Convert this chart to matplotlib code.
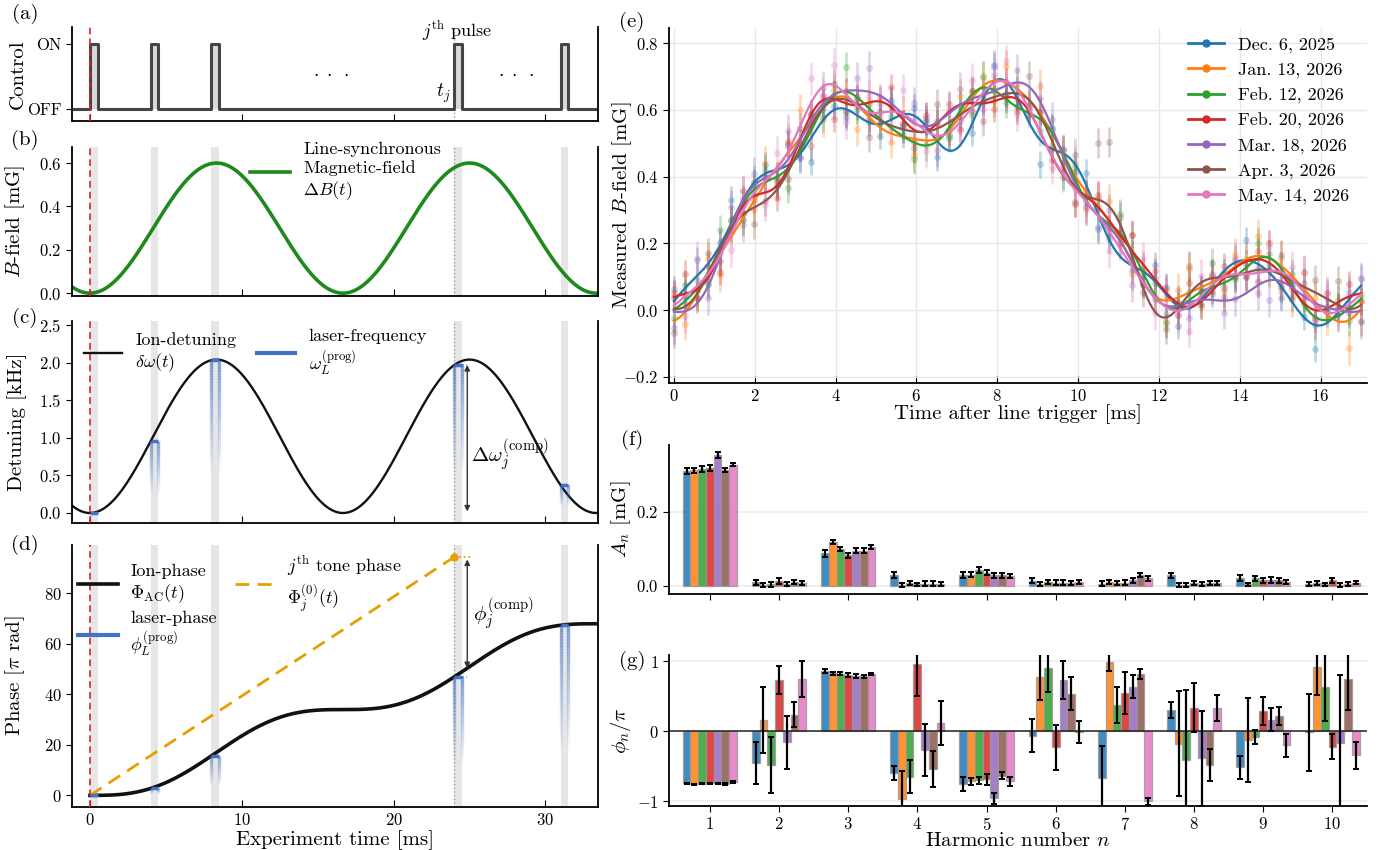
import numpy as np
import matplotlib
matplotlib.use('Agg')
import matplotlib.pyplot as plt
from matplotlib.collections import LineCollection
from matplotlib.lines import Line2D
from matplotlib.colors import to_rgb

plt.rcParams['font.family'] = ['cmr10', 'DejaVu Serif']
plt.rcParams['mathtext.fontset'] = 'cm'
plt.rcParams['axes.formatter.use_mathtext'] = True
plt.rcParams['axes.unicode_minus'] = True
plt.rcParams['axes.linewidth'] = 1.3

# ---------------- schematic parameters (panels a-d) ----------------
line_period_ms = 1000.0 / 60.0
B_peak_mG = 0.60
detuning_peak_kHz = 2.04
pulse_times_ms = [0.0, 4.0, 8.0, 24.0, 31.0]
pulse_width_ms = 0.5
j_pulse_index = 3
control_ticks = [0, 1]
control_labels = ['OFF', 'ON']

# ---------------- measured data (panels e-g) ----------------
dates = ['Dec. 6, 2025', 'Jan. 13, 2026', 'Feb. 12, 2026', 'Feb. 20, 2026',
         'Mar. 18, 2026', 'Apr. 3, 2026', 'May. 14, 2026']
colors = ['#1f77b4', '#ff7f0e', '#2ca02c', '#d62728', '#9467bd', '#8c564b', '#e377c2']
harmonics = [1, 2, 3, 4, 5, 6, 7, 8, 9, 10]
offset_A0 = [0.320, 0.330, 0.325, 0.330, 0.330, 0.325, 0.328]

amp_dec06 = [0.310, 0.010, 0.088, 0.029, 0.030, 0.014, 0.006, 0.028, 0.020, 0.005]
amp_jan13 = [0.312, 0.003, 0.118, 0.002, 0.030, 0.005, 0.010, 0.003, 0.004, 0.008]
amp_feb12 = [0.315, 0.004, 0.100, 0.008, 0.043, 0.010, 0.007, 0.002, 0.020, 0.004]
amp_feb20 = [0.318, 0.013, 0.082, 0.004, 0.036, 0.008, 0.008, 0.007, 0.015, 0.015]
amp_mar18 = [0.352, 0.005, 0.095, 0.006, 0.029, 0.009, 0.015, 0.005, 0.016, 0.003]
amp_apr03 = [0.313, 0.010, 0.095, 0.006, 0.028, 0.008, 0.030, 0.007, 0.015, 0.005]
amp_may14 = [0.327, 0.007, 0.104, 0.005, 0.027, 0.010, 0.020, 0.008, 0.010, 0.009]

amp_err_dec06 = [0.009, 0.007, 0.009, 0.009, 0.008, 0.007, 0.007, 0.008, 0.008, 0.006]
amp_err_jan13 = [0.007, 0.005, 0.006, 0.005, 0.007, 0.005, 0.006, 0.005, 0.005, 0.006]
amp_err_feb12 = [0.007, 0.006, 0.006, 0.006, 0.007, 0.006, 0.006, 0.005, 0.007, 0.005]
amp_err_feb20 = [0.008, 0.007, 0.007, 0.005, 0.008, 0.007, 0.007, 0.006, 0.007, 0.007]
amp_err_mar18 = [0.008, 0.006, 0.007, 0.006, 0.007, 0.007, 0.007, 0.006, 0.007, 0.005]
amp_err_apr03 = [0.006, 0.006, 0.006, 0.006, 0.006, 0.006, 0.006, 0.006, 0.006, 0.005]
amp_err_may14 = [0.005, 0.005, 0.005, 0.005, 0.006, 0.006, 0.006, 0.006, 0.006, 0.005]

phase_dec06 = [-0.745, -0.46, 0.855, -0.60, -0.755, -0.065, -0.665, 0.30, -0.52, -0.015]
phase_jan13 = [-0.760, 0.155, 0.825, -0.965, -0.720, 0.775, 0.980, -0.18, -0.13, 0.920]
phase_feb12 = [-0.750, -0.485, 0.820, -0.65, -0.700, 0.905, 0.370, -0.41, -0.08, 0.630]
phase_feb20 = [-0.745, 0.730, 0.800, 0.960, -0.690, -0.230, 0.550, 0.33, 0.28, -0.225]
phase_mar18 = [-0.745, -0.160, 0.790, -0.265, -0.960, 0.725, 0.635, -0.39, 0.165, -0.175]
phase_apr03 = [-0.755, 0.235, 0.780, -0.545, -0.635, 0.535, 0.810, -0.49, 0.215, 0.750]
phase_may14 = [-0.730, 0.745, 0.815, 0.115, -0.720, -0.015, -1.000, 0.33, -0.205, -0.345]

phase_err_dec06 = [0.01, 0.30, 0.03, 0.10, 0.10, 0.24, 0.45, 0.12, 0.16, 0.55]
phase_err_jan13 = [0.01, 0.47, 0.02, 0.40, 0.05, 0.33, 0.12, 0.75, 0.60, 0.40]
phase_err_feb12 = [0.01, 0.40, 0.02, 0.24, 0.05, 0.35, 0.26, 1.00, 0.10, 0.48]
phase_err_feb20 = [0.01, 0.20, 0.03, 0.46, 0.08, 0.32, 0.30, 0.35, 0.20, 0.18]
phase_err_mar18 = [0.01, 0.38, 0.03, 0.37, 0.08, 0.27, 0.17, 0.68, 0.17, 0.97]
phase_err_apr03 = [0.01, 0.18, 0.02, 0.26, 0.05, 0.24, 0.07, 0.23, 0.13, 0.45]
phase_err_may14 = [0.01, 0.26, 0.01, 0.31, 0.06, 0.16, 0.05, 0.18, 0.17, 0.19]

# deviations of the measured points from each fitted curve (units of 0.01 mG)
resid_dec06 = [3, -2, 4, -5, 1, 6, -3, 0, 2, -4, 5, -1, -6, 3, 1, -2, 4, 0, -3, 5,
               -5, 2, 1, -4, 3, 6, -2, -1, 4, -3, 0, 2, -6, 5, 1, -2, 3, -4, 0, 6,
               -1, -3, 4, 2, -5, 1, 3, -2, 0, -4, 5, -1, 2, -3, 4, 0, -6, 3, 1, -2, 2]
resid_jan13 = [6, -3, 1, 4, -5, 2, 0, -2, 5, -4, 3, 7, -1, -3, 2, 0, -6, 4, 1, -2,
               6, -4, 3, 0, -1, 5, -3, 2, -5, 4, 1, -2, 7, -3, 0, 3, -4, 2, 5, -1,
               -3, 4, 0, -5, 2, 6, -2, 1, -4, 3, 0, 5, -3, 2, -6, 4, 1, -1, 3, -7, 2]
resid_feb12 = [-2, 4, 0, -3, 5, 1, -4, 2, 3, -1, -5, 2, 4, -2, 0, 6, -3, 1, -1, 3,
               2, -4, 0, 5, -2, 1, -5, 3, 0, -1, 4, 2, -3, 1, -6, 3, 0, 2, -2, 5,
               -1, 0, 3, -4, 1, 2, -3, 6, -1, 0, -2, 4, 1, -5, 3, 0, -2, 2, 4, -3, 1]
resid_feb20 = [1, 5, -2, 3, -4, 0, 2, -1, 4, -3, 6, -2, 0, 1, -5, 3, 2, -4, 1, 5,
               -1, -3, 4, 0, 2, -6, 3, 1, -2, 4, -3, 0, 5, -1, 2, -4, 1, 3, -2, 0,
               4, -5, 2, 1, -3, 6, -1, 0, 3, -2, -4, 2, 5, -3, 0, 1, -2, 4, -1, 3, -2]
resid_mar18 = [-4, 2, 6, -3, 1, 5, -6, 3, 0, -2, 7, -4, 1, 4, -1, -5, 3, 6, -2, 0,
               -3, 5, 2, -7, 1, 4, -3, 0, 6, -2, 3, -5, 1, 2, -4, 7, -1, -3, 4, 0,
               -6, 3, 5, -2, 1, -4, 2, 6, -3, 0, 4, -2, -5, 3, 1, 6, -4, 2, -1, 5, -3]
resid_apr03 = [-6, 3, -1, 5, -3, 2, 6, -4, 0, 3, -2, 5, -5, 1, 4, -3, 0, -6, 2, 5,
               1, -4, 3, 6, -2, 0, 4, -5, 2, -1, -3, 6, 1, -2, 4, -4, 0, 14, 16, 2,
               5, -1, 3, -3, 0, 7, -2, 1, -5, 4, 2, -3, 0, 5, -4, 1, 3, -2, 6, -1, -4]
resid_may14 = [2, -5, 7, -1, 3, -4, 5, 0, -6, 4, 1, -3, 6, -2, 5, -7, 2, 4, -1, -4,
               6, 0, -5, 3, 1, -2, 7, -4, 2, 5, -6, 1, 3, -3, 6, 0, -2, 4, -5, 2,
               1, 6, -4, 3, -1, -6, 5, 2, -3, 4, 0, -2, 6, -5, 3, 1, -4, 5, -1, 2, 4]
point_err = [0.040, 0.050, 0.045, 0.040, 0.050, 0.045, 0.050]
t_meas_start_ms = 0.0
t_meas_stop_ms = 17.0
n_points = 61

amps = [amp_dec06, amp_jan13, amp_feb12, amp_feb20, amp_mar18, amp_apr03, amp_may14]
amp_errs = [amp_err_dec06, amp_err_jan13, amp_err_feb12, amp_err_feb20,
            amp_err_mar18, amp_err_apr03, amp_err_may14]
phases = [phase_dec06, phase_jan13, phase_feb12, phase_feb20, phase_mar18, phase_apr03, phase_may14]
phase_errs = [phase_err_dec06, phase_err_jan13, phase_err_feb12, phase_err_feb20,
              phase_err_mar18, phase_err_apr03, phase_err_may14]
resids = [resid_dec06, resid_jan13, resid_feb12, resid_feb20, resid_mar18, resid_apr03, resid_may14]

# ---------------- figure ----------------
W, H = 1378, 850
fig = plt.figure(figsize=(W / 100, H / 100), dpi=100)


def add_ax(l, r, t, b):
    return fig.add_axes([l / W, 1 - b / H, (r - l) / W, (b - t) / H])


LX0, LX1 = 72, 598
RX0, RX1 = 669, 1367
ax_a = add_ax(LX0, LX1, 27, 121)
ax_b = add_ax(LX0, LX1, 147, 296)
ax_c = add_ax(LX0, LX1, 321, 523)
ax_d = add_ax(LX0, LX1, 545, 807)
ax_e = add_ax(RX0, RX1, 28, 383)
ax_f = add_ax(RX0, RX1, 445, 594)
ax_g = add_ax(RX0, RX1, 655, 806)

LABEL_FS = 15
TICK_FS = 12
LEG_FS = 13
xlim_left = (-1.18, 33.46)
T = line_period_ms
t_j = pulse_times_ms[j_pulse_index]
blue = '#4472c4'
green = '#1e8a1e'
orange = '#e69f00'
band_color = '#e6e6e6'


def B_of(t):
    return B_peak_mG / 2 * (1 - np.cos(2 * np.pi * np.asarray(t) / T))


def det_of(t):
    return detuning_peak_kHz / 2 * (1 - np.cos(2 * np.pi * np.asarray(t) / T))


def phase_of(t):
    t = np.asarray(t)
    return detuning_peak_kHz * (t - T / (2 * np.pi) * np.sin(2 * np.pi * t / T))


def fade_line(ax, x, y_top, length, color, lw=2.4, n=40):
    ys = np.linspace(y_top, y_top - length, n + 1)
    segs = [[(x, ys[i]), (x, ys[i + 1])] for i in range(n)]
    rgb = to_rgb(color)
    alphas = np.linspace(0.7, 0.0, n)
    lc = LineCollection(segs, colors=[(*rgb, a) for a in alphas], linewidths=lw, zorder=3)
    ax.add_collection(lc)


def style_left(ax, show_xlabels=False):
    ax.set_xlim(*xlim_left)
    ax.spines['top'].set_visible(False)
    ax.set_xticks([0, 10, 20, 30])
    ax.tick_params(axis='x', direction='in', length=5, labelsize=TICK_FS)
    ax.tick_params(axis='y', direction='out', length=4, labelsize=TICK_FS)
    if not show_xlabels:
        ax.set_xticklabels([])
    ax.axvline(0, color='#e02020', ls=(0, (4, 2.5)), lw=1.2, zorder=4)
    ax.axvline(t_j, color='#999999', ls=':', lw=1.0, zorder=1)
    ax.yaxis.set_label_coords((27 - LX0) / (LX1 - LX0), 0.5)


def bands(ax):
    for p in pulse_times_ms:
        ax.axvspan(p, p + pulse_width_ms, color=band_color, lw=0, zorder=0)


def legend_at(ax, handles, labels, px, py, **kw):
    """place legend's upper-left corner at figure pixel (px, py)"""
    bb = ax.get_position()
    fx = (px / W - bb.x0) / bb.width
    fy = ((1 - py / H) - bb.y0) / bb.height
    return ax.legend(handles=handles, labels=labels, loc='upper left', bbox_to_anchor=(fx, fy),
                     frameon=False, borderpad=0, borderaxespad=0, **kw)


# ---- (a) control ----
xs = [xlim_left[0]]
ys = [0]
for p in pulse_times_ms:
    xs += [p, p, p + pulse_width_ms, p + pulse_width_ms]
    ys += [0, 1, 1, 0]
xs.append(xlim_left[1])
ys.append(0)
ax_a.fill_between(xs, 0, ys, color='#d9d9d9', lw=0, zorder=1)
ax_a.plot(xs, ys, color='#454545', lw=2.2, zorder=2)
style_left(ax_a)
ax_a.set_ylim(-0.18, 1.26)
ax_a.set_yticks(control_ticks)
ax_a.set_yticklabels(control_labels)
ax_a.set_ylabel('Control', fontsize=LABEL_FS)
ax_a.text(t_j + 0.2, 1.2, r'$j^{\mathrm{th}}$ pulse', fontsize=13, ha='center', va='center')
ax_a.text(t_j - 0.25, 0.25, r'$t_j$', fontsize=14, ha='right', va='center')
ax_a.text(15.9, 0.55, r'$\cdot\;\cdot\;\cdot$', fontsize=14, ha='center', va='center')
ax_a.text(28.1, 0.55, r'$\cdot\;\cdot\;\cdot$', fontsize=14, ha='center', va='center')

tt = np.linspace(xlim_left[0], xlim_left[1], 3000)

# ---- (b) B-field ----
bands(ax_b)
ax_b.plot(tt, B_of(tt), color=green, lw=2.6, zorder=2)
style_left(ax_b)
ax_b.set_ylim(-0.013, 0.674)
ax_b.set_yticks([0.0, 0.2, 0.4, 0.6])
ax_b.set_ylabel(r'$B$-field [mG]', fontsize=LABEL_FS)
legend_at(ax_b, [Line2D([], [], color=green, lw=2.6)],
          ['Line-synchronous\nMagnetic-field\n$\\Delta B(t)$'], 250, 142,
          fontsize=LEG_FS, handlelength=2.2, handletextpad=0.75)

# ---- (c) detuning ----
bands(ax_c)
ax_c.plot(tt, det_of(tt), color='#111111', lw=1.7, zorder=2)
for p in pulse_times_ms:
    lvl = float(det_of(p))
    ax_c.plot([p, p + pulse_width_ms], [lvl, lvl], color=blue, lw=2.5, zorder=4,
              solid_capstyle='butt')
    if lvl > 0.05:
        fade_line(ax_c, p, lvl, 0.75 * lvl, blue)
        fade_line(ax_c, p + pulse_width_ms, lvl, 0.75 * lvl, blue)
arrow_t = t_j + 0.85
lvl_j = float(det_of(t_j))
ax_c.plot([t_j + pulse_width_ms, arrow_t], [lvl_j, lvl_j], ls=':', color=blue, lw=1.2)
ax_c.annotate('', xy=(arrow_t, 0.02), xytext=(arrow_t, lvl_j),
              arrowprops=dict(arrowstyle='<|-|>', color='#333333', lw=1.0,
                              mutation_scale=8, shrinkA=0, shrinkB=0))
ax_c.text(arrow_t + 0.25, 0.78, r'$\Delta\omega_j^{(\mathrm{comp})}$', fontsize=15,
          ha='left', va='center')
style_left(ax_c)
ax_c.set_ylim(-0.133, 2.553)
ax_c.set_yticks([0.0, 0.5, 1.0, 1.5, 2.0, 2.5])
ax_c.set_ylabel('Detuning [kHz]', fontsize=LABEL_FS)
legend_at(ax_c, [Line2D([], [], color='#111111', lw=1.7), Line2D([], [], color=blue, lw=3)],
          ['Ion-detuning\n$\\delta\\omega(t)$', 'laser-frequency\n$\\omega_L^{(\\mathrm{prog})}$'],
          84, 329, ncol=2, fontsize=LEG_FS, handlelength=2.1, handletextpad=0.75,
          columnspacing=1.15)

# ---- (d) phase ----
bands(ax_d)
tp = np.linspace(0, xlim_left[1], 2000)
ax_d.plot(tp, phase_of(tp), color='#111111', lw=2.6, zorder=2)
tone_slope = 2 * lvl_j
t_tone = np.array([0.0, t_j])
ax_d.plot(t_tone, tone_slope * t_tone, color=orange, lw=2.0, ls=(0, (5, 3)), zorder=3)
tone_end = tone_slope * t_j
ax_d.plot([t_j], [tone_end], 'o', color=orange, ms=5, zorder=4)
ax_d.plot([t_j, t_j + 1.0], [tone_end, tone_end], ':', color=orange, lw=1.3)
for p in pulse_times_ms:
    lvl = float(phase_of(p))
    ax_d.plot([p, p + pulse_width_ms], [lvl, lvl], color=blue, lw=2.5, zorder=4,
              solid_capstyle='butt')
    if lvl > 1.0:
        fade_line(ax_d, p, lvl, 0.75 * lvl, blue)
        fade_line(ax_d, p + pulse_width_ms, lvl, 0.75 * lvl, blue)
ph_j = float(phase_of(t_j))
ax_d.plot([t_j + pulse_width_ms, arrow_t], [ph_j, ph_j], ls=':', color=blue, lw=1.2)
ax_d.annotate('', xy=(arrow_t, float(phase_of(arrow_t))), xytext=(arrow_t, tone_end - 1),
              arrowprops=dict(arrowstyle='<|-|>', color='#333333', lw=1.0,
                              mutation_scale=8, shrinkA=0, shrinkB=0))
ax_d.text(arrow_t + 0.35, 72, r'$\phi_j^{(\mathrm{comp})}$', fontsize=15, ha='left', va='center')
style_left(ax_d, show_xlabels=True)
ax_d.set_ylim(-4.6, 99.2)
ax_d.set_yticks([0, 20, 40, 60, 80])
ax_d.set_ylabel(r'Phase [$\pi$ rad]', fontsize=LABEL_FS)
ax_d.set_xlabel('Experiment time [ms]', fontsize=LABEL_FS, labelpad=2)
legend_at(ax_d, [Line2D([], [], color='#111111', lw=2.6), Line2D([], [], color=blue, lw=3),
                 Line2D([], [], color=orange, lw=2.0, ls=(0, (5, 3)))],
          ['Ion-phase\n$\\Phi_{\\mathrm{AC}}(t)$', 'laser-phase\n$\\phi_L^{(\\mathrm{prog})}$',
           '$j^{\\mathrm{th}}$ tone phase\n$\\Phi_j^{(0)}(t)$'],
          78, 554, ncol=2, fontsize=LEG_FS, handlelength=2.2, handletextpad=0.7,
          columnspacing=1.0, labelspacing=0.3)

# ---- (e) measured B-field ----
t_meas = np.linspace(t_meas_start_ms, t_meas_stop_ms, n_points)
t_fit = np.linspace(t_meas_start_ms, t_meas_stop_ms, 1500)
n_arr = np.array(harmonics)


def fourier(t, a0, amp, ph):
    t = np.asarray(t)[:, None]
    return a0 + np.sum(np.array(amp) * np.cos(2 * np.pi * n_arr * t / T + np.pi * np.array(ph)), axis=1)


for i in range(len(dates)):
    fit_meas = fourier(t_meas, offset_A0[i], amps[i], phases[i])
    pts = fit_meas + 0.012 * np.array(resids[i])
    ax_e.errorbar(t_meas, pts, yerr=point_err[i], fmt='o', ms=5, color=colors[i],
                  alpha=0.28, elinewidth=2, capsize=0, zorder=2, mew=0)
for i in range(len(dates)):
    ax_e.plot(t_fit, fourier(t_fit, offset_A0[i], amps[i], phases[i]), color=colors[i],
              lw=1.6, zorder=3)
ax_e.set_xlim(-0.12, 17.15)
ax_e.set_ylim(-0.218, 0.845)
ax_e.set_xticks(np.arange(0, 17, 2))
ax_e.set_yticks([-0.2, 0.0, 0.2, 0.4, 0.6, 0.8])
ax_e.grid(True, color='#e8e8e8', lw=1.0, zorder=0)
ax_e.set_axisbelow(True)
for s in ['top', 'right']:
    ax_e.spines[s].set_visible(False)
ax_e.tick_params(axis='x', direction='in', length=5, labelsize=TICK_FS)
ax_e.tick_params(axis='y', direction='out', length=4, labelsize=TICK_FS)
ax_e.set_xlabel('Time after line trigger [ms]', fontsize=LABEL_FS, labelpad=0)
ax_e.set_ylabel(r'Measured $B$-field [mG]', fontsize=LABEL_FS)
ax_e.yaxis.set_label_coords((634 - RX0) / (RX1 - RX0), 0.5)
leg_handles = [Line2D([], [], color=c, lw=2, marker='o', ms=5) for c in colors]
bb = ax_e.get_position()
ax_e.legend(leg_handles, dates, loc='upper right',
            bbox_to_anchor=((1349 / W - bb.x0) / bb.width, ((1 - 37 / H) - bb.y0) / bb.height),
            frameon=False, borderpad=0, borderaxespad=0,
            fontsize=13, handlelength=2.0, handletextpad=0.75, labelspacing=0.5)

# ---- (f), (g) harmonics ----
bar_w = 0.112
for ax, vals_list, errs_list in [(ax_f, amps, amp_errs), (ax_g, phases, phase_errs)]:
    for i in range(len(dates)):
        x = n_arr + (i - 3) * bar_w
        ax.bar(x, vals_list[i], width=bar_w, color=colors[i], alpha=0.85,
               edgecolor='#999999', lw=0.9, zorder=2)
        ax.errorbar(x, vals_list[i], yerr=errs_list[i], fmt='none', ecolor='k',
                    elinewidth=1.6, capsize=2.0, capthick=1.4, zorder=3)
    ax.set_xlim(0.41, 10.5)
    ax.set_xticks(harmonics)
    for s in ['top', 'right']:
        ax.spines[s].set_visible(False)
    ax.tick_params(axis='both', direction='out', length=4, labelsize=TICK_FS)
    ax.yaxis.grid(True, color='#eeeeee', lw=1.2, zorder=0)
    ax.set_axisbelow(True)
    ax.yaxis.set_label_coords((633 - RX0) / (RX1 - RX0), 0.5)

ax_f.set_ylim(-0.022, 0.38)
ax_f.set_yticks([0.0, 0.2])
ax_f.set_xticklabels([])
ax_f.set_ylabel(r'$A_n$ [mG]', fontsize=LABEL_FS)

ax_g.axhline(0, color='#222222', lw=1.1, zorder=2.5)
ax_g.set_ylim(-1.07, 1.086)
ax_g.set_yticks([-1, 0, 1])
ax_g.set_ylabel(r'$\phi_n/\pi$', fontsize=LABEL_FS)
ax_g.set_xlabel(r'Harmonic number $n$', fontsize=LABEL_FS, labelpad=-1)

# ---- panel letters ----
for lab, (px, py) in {'(a)': (25, 14), '(b)': (25, 140), '(c)': (25, 318), '(d)': (25, 545),
                      '(e)': (632, 22), '(f)': (632, 440), '(g)': (632, 661)}.items():
    fig.text(px / W, 1 - py / H, lab, fontsize=15, ha='center', va='center')

fig.savefig('out.png', dpi=100)
